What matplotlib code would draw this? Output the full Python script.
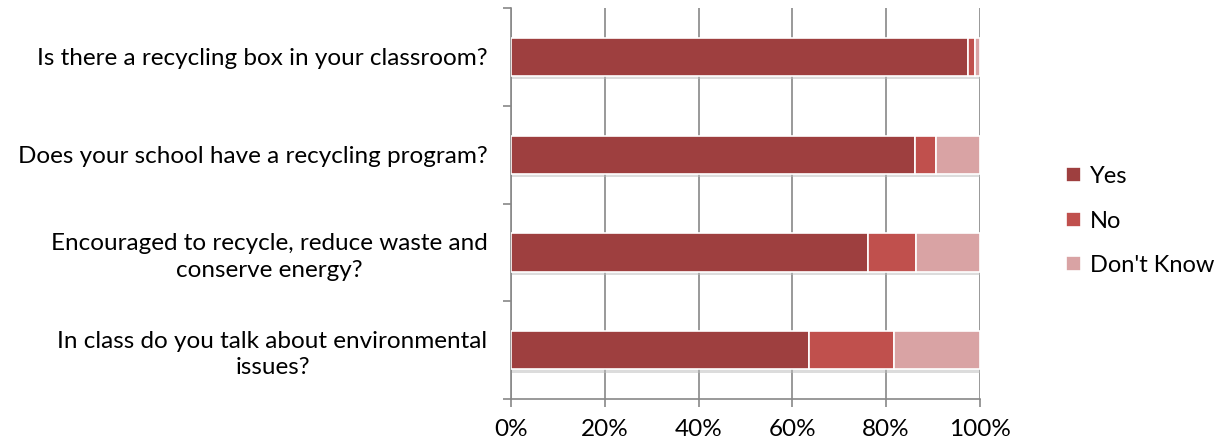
import numpy as np
import matplotlib
matplotlib.use('Agg')
import matplotlib.pyplot as plt
from matplotlib.ticker import FixedLocator, PercentFormatter

plt.rcParams['font.family'] = ['Lato', 'DejaVu Sans']

questions = ['Is there a recycling box in your classroom?',
             'Does your school have a recycling program?',
             'Encouraged to recycle, reduce waste and\nconserve energy?',
             'In class do you talk about environmental\nissues?']
yes = [97.5, 86.2, 76.2, 63.6]
no = [1.5, 4.4, 10.3, 18.1]
dont_know = [1.0, 9.4, 13.5, 18.3]
series = ['Yes', 'No', "Don't Know"]
colors = ['#9E3F3F', '#C0504D', '#D9A3A4']

fig = plt.figure(figsize=(12.23, 4.46), dpi=100)
ax = fig.add_axes([0.418, 0.105, 0.383, 0.877])

y = np.arange(len(questions))
# faint shadow under the bars
ax.barh(y + 0.035, np.full(len(questions), 100.0), height=0.39,
        color='#bbbbbb', alpha=0.5, linewidth=0, zorder=2)
left = np.zeros(len(questions))
for name, vals, c in zip(series, [yes, no, dont_know], colors):
    ax.barh(y, vals, left=left, height=0.39, color=c, edgecolor='white',
            linewidth=1.2, label=name, zorder=3)
    left = left + np.array(vals)

ax.set_xlim(0, 100)
ax.set_ylim(len(questions) - 0.5, -0.5)
ax.set_xticks(np.arange(0, 101, 20))
ax.xaxis.set_major_formatter(PercentFormatter(decimals=0))
ax.set_yticks(y)
ax.set_yticklabels(questions, multialignment='center', linespacing=1.3)
ax.yaxis.set_minor_locator(FixedLocator(np.arange(-0.5, len(questions), 1)))
ax.tick_params(axis='y', which='major', length=0, pad=17, labelsize=17.5)
ax.tick_params(axis='y', which='minor', length=6, color='#888888', width=1.2)
ax.tick_params(axis='x', length=6, color='#888888', width=1.2, labelsize=17.5, pad=8)

ax.grid(axis='x', color='#888888', linewidth=1.2, zorder=0)
for s in ['top', 'right']:
    ax.spines[s].set_visible(False)
for s in ['left', 'bottom']:
    ax.spines[s].set_color('#888888')
    ax.spines[s].set_linewidth(1.2)

ax.legend(loc='center left', bbox_to_anchor=(1.14, 0.455), frameon=False,
          fontsize=17, handlelength=0.6, handleheight=0.6, handletextpad=0.4,
          labelspacing=1.0)

fig.savefig('out.png', dpi=100)
